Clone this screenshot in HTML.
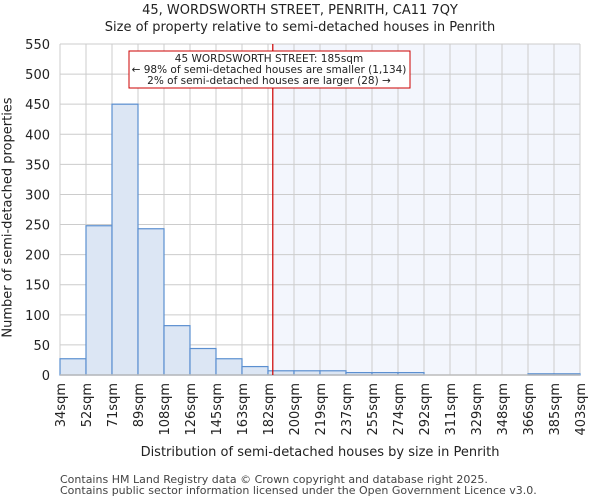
<!DOCTYPE html>
<html><head><meta charset="utf-8"><style>
body{margin:0;background:#fff;font-family:"DejaVu Sans","Liberation Sans",sans-serif;}
svg text{font-family:"DejaVu Sans","Liberation Sans",sans-serif;fill:#222;}
</style></head><body>
<svg id="c" width="600" height="500"></svg>
<script>
const categories=["34sqm","52sqm","71sqm","89sqm","108sqm","126sqm","145sqm","163sqm","182sqm","200sqm","219sqm","237sqm","255sqm","274sqm","292sqm","311sqm","329sqm","348sqm","366sqm","385sqm","403sqm"];
const counts=[27,248,450,243,82,44,27,14,7,7,7,4,4,4,0,0,0,0,2,2];
const yTicks=[0,50,100,150,200,250,300,350,400,450,500,550];
const propertySize=185;
const ns="http://www.w3.org/2000/svg";
const svg=document.getElementById('c');
const L=60,R=580,T=44,B=375,xmin=34,xmax=403,ymax=550;
const bw=(R-L)/counts.length;
const xs=v=>L+(v-xmin)/(xmax-xmin)*(R-L);
const ys=v=>B-v/ymax*(B-T);
function mk(t,a,p){const e=document.createElementNS(ns,t);for(const k in a)e.setAttribute(k,a[k]);(p||svg).appendChild(e);return e;}
let e;
const px=xs(propertySize);
e=mk('rect',{x:px,y:T,width:R-px,height:B-T,fill:'#f3f6fd'});


yTicks.forEach(v=>{
 e=mk('line',{x1:L,x2:R,y1:ys(v),y2:ys(v),stroke:'#ccc'});
 
 
 e=mk('text',{x:L-10,y:ys(v)+5,'text-anchor':'end','font-size':13});e.textContent=v;
 
 
});
categories.forEach((c,i)=>{
 const x=L+i*bw;
 e=mk('line',{x1:x,x2:x,y1:T,y2:B,stroke:'#ccc'});
 
 
 e=mk('text',{transform:`translate(${x+5},${B+8}) rotate(-90)`,'text-anchor':'end','font-size':13});e.textContent=c;
 
 
});
counts.forEach((v,i)=>{
 e=mk('rect',{x:L+i*bw,y:ys(v),width:bw,height:B-ys(v),fill:'#dce6f4',stroke:'#5b8fd0','stroke-width':1.2});
 
 
});
e=mk('line',{x1:L,x2:R,y1:B,y2:B,stroke:'#bbb','stroke-width':1.5});


e=mk('line',{x1:px,x2:px,y1:T,y2:B,stroke:'#cc0000','stroke-width':1.2});


const g=mk('g',{});


mk('rect',{x:129,y:51,width:281,height:37,fill:'#fff',stroke:'#cc0000'},g);
["45 WORDSWORTH STREET: 185sqm","← 98% of semi-detached houses are smaller (1,134)","2% of semi-detached houses are larger (28) →"].forEach((t,i)=>{
 const tx=mk('text',{x:269,y:62+i*11,'text-anchor':'middle','font-size':10.5},g);tx.textContent=t;
});
</script>
<div style="position:absolute;left:0;top:0;width:600px;">
<div style="position:absolute;top:3px;width:600px;text-align:center;font-size:13px;color:#222;">45, WORDSWORTH STREET, PENRITH, CA11 7QY</div>
<div style="position:absolute;top:20px;width:600px;text-align:center;font-size:13px;color:#222;">Size of property relative to semi-detached houses in Penrith</div>
<div style="position:absolute;top:445px;left:60px;width:520px;text-align:center;font-size:13px;color:#222;">Distribution of semi-detached houses by size in Penrith</div>
<div style="position:absolute;left:-142px;top:210px;width:300px;text-align:center;font-size:13px;color:#222;white-space:nowrap;transform:rotate(-90deg);">Number of semi-detached properties</div>
<div style="position:absolute;left:60px;top:474px;font-size:11px;line-height:11px;color:#444;">Contains HM Land Registry data © Crown copyright and database right 2025.<br>Contains public sector information licensed under the Open Government Licence v3.0.</div>
</div>
</body></html>
